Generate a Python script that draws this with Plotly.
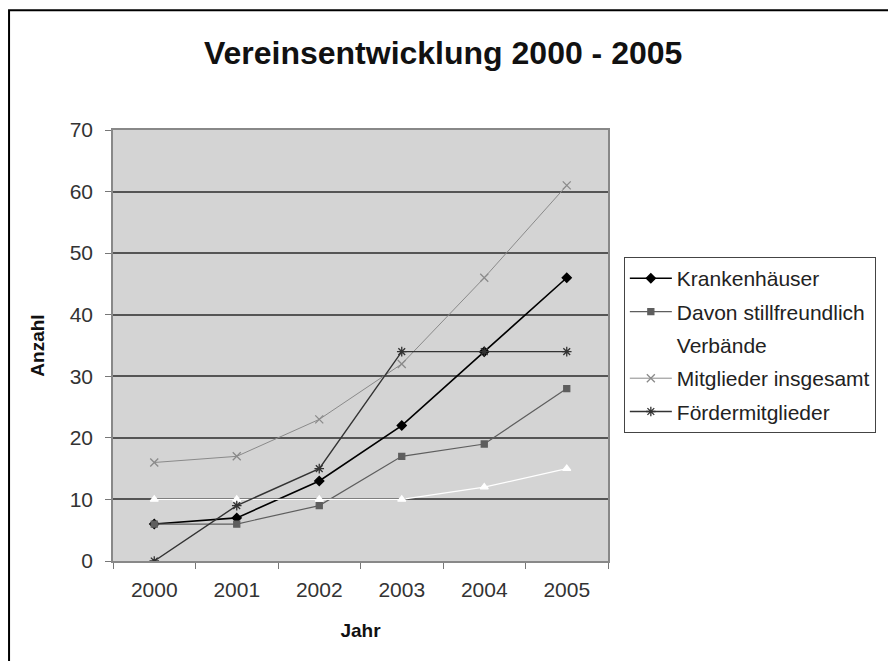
import plotly.graph_objects as go

years = ["2000", "2001", "2002", "2003", "2004", "2005"]
krankenhaeuser = [6, 7, 13, 22, 34, 46]
davon_stillfreundlich = [6, 6, 9, 17, 19, 28]
verbaende = [10, 10, 10, 10, 12, 15]
mitglieder_insgesamt = [16, 17, 23, 32, 46, 61]
foerdermitglieder = [0, 9, 15, 34, 34, 34]

series = [
    ("Krankenhäuser", krankenhaeuser, "#000000", "diamond", 7, 1.6),
    ("Davon stillfreundlich", davon_stillfreundlich, "#5e5e5e", "square", 6, 1.2),
    ("Verbände", verbaende, "#ffffff", "triangle-up", 7, 1.2),
    ("Mitglieder insgesamt", mitglieder_insgesamt, "#8a8a8a", "x-thin-open", 8, 1.0),
    ("Fördermitglieder", foerdermitglieder, "#333333", "asterisk-open", 8, 1.4),
]

fig = go.Figure()
for i, (name, vals, col, sym, size, w) in enumerate(series):
    fig.add_trace(go.Scatter(
        x=years, y=vals, name=name, mode="lines+markers",
        legendgroup=f"g{i}",
        line=dict(color=col, width=w),
        marker=dict(symbol=sym, size=size, color=col, line=dict(color=col, width=1.3)),
    ))

font_family = "Liberation Sans, Arial, sans-serif"

# page body has an 8px margin: figure is sized 888x653 so that it fills the 896x661 window
fig.update_layout(
    width=888, height=653,
    paper_bgcolor="white",
    plot_bgcolor="#d4d4d4",
    margin=dict(l=105, r=288, t=122, b=100),
    font=dict(family=font_family, color="#222222", size=21),
    title=dict(
        text="<b>Vereinsentwicklung 2000 - 2005</b>",
        x=0.49, xanchor="center", y=0.931, yanchor="middle",
        font=dict(size=32, color="#111111", family=font_family),
    ),
    showlegend=True,
    legend=dict(
        x=1.032, xanchor="left", y=0.705, yanchor="top",
        bgcolor="white", bordercolor="#444444", borderwidth=1,
        font=dict(size=21, color="#222222", family=font_family),
        tracegroupgap=3, itemwidth=42,
    ),
    xaxis=dict(
        type="category", range=[-0.5, 5.5],
        tickson="boundaries", ticks="outside", ticklen=6, tickcolor="#777777",
        showgrid=False, showline=True, linecolor="#888888", linewidth=1.5,
        mirror=True, zeroline=False, ticklabelstandoff=9,
        tickfont=dict(size=21, color="#333333"),
        title=dict(text="<b>Jahr</b>", font=dict(size=19, color="#111111"), standoff=24),
    ),
    yaxis=dict(
        range=[0, 70], dtick=10, ticks="outside", ticklen=6, tickcolor="#777777",
        showgrid=True, gridcolor="#555555", gridwidth=1.8,
        showline=True, linecolor="#888888", linewidth=1.5, mirror=True,
        zeroline=False, ticklabelstandoff=8,
        tickfont=dict(size=21, color="#333333"),
        title=dict(text="<b>Anzahl</b>", font=dict(size=19, color="#111111"), standoff=20),
    ),
    shapes=[dict(
        type="rect", xref="paper", yref="paper",
        x0=-0.210, x1=1.6, y0=-0.5, y1=1.278,
        line=dict(color="black", width=2), fillcolor="rgba(0,0,0,0)", layer="above",
    )],
)

fig.write_html("out.html")
